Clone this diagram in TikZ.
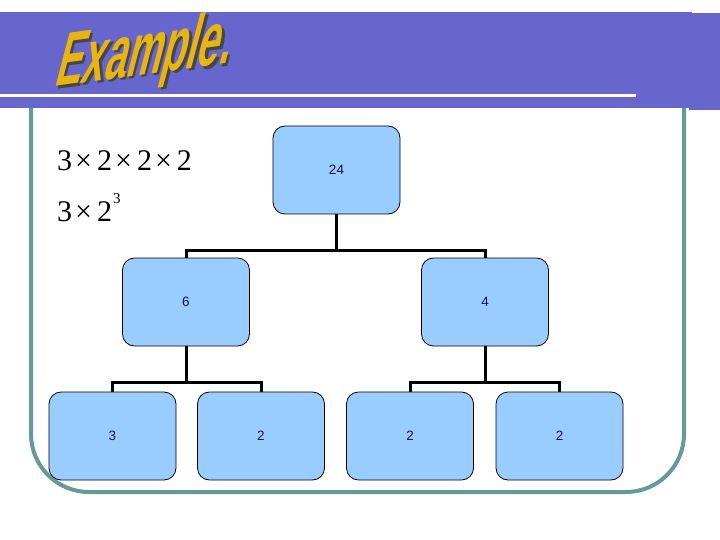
\documentclass[tikz,border=0pt]{standalone}
\usepackage{fontspec}
\setmainfont{Liberation Sans}
\newfontfamily\serifT{Liberation Serif}
\definecolor{banner}{RGB}{102,102,204}
\definecolor{frame}{RGB}{102,153,153}
\definecolor{boxfill}{RGB}{153,204,255}
\definecolor{wgold}{RGB}{232,180,20}
\definecolor{labtxt}{RGB}{20,20,70}
\begin{document}
\begin{tikzpicture}[x=1pt,y=-1pt,
  box/.style={draw=black,line width=0.8pt,fill=boxfill,rounded corners=12pt,
    minimum width=127pt,minimum height=88pt,inner sep=0pt,
    font=\fontsize{13.5}{15}\selectfont,text=labtxt},
  conn/.style={draw=black,line width=3pt},
  title/.style={font=\bfseries\fontsize{66}{68}\selectfont,inner sep=0pt,
    xscale=0.58,yscale=1.17,xslant=0.6,rotate=4},
  mathtxt/.style={font=\serifT\fontsize{30}{31}\selectfont,inner sep=0pt,anchor=base west}]
\useasboundingbox (0,0) rectangle (720,540);
\fill[white] (0,0) rectangle (720,540);
% banner
\fill[banner] (0,12) rectangle (692,108);
\fill[banner] (689,13) rectangle (720,110);
\fill[white] (0,94) rectangle (636,97.5);
% frame
\draw[frame,line width=4pt,rounded corners=58pt] (31,108) -- (31,492) -- (684,492) -- (684,108);
% title (WordArt-like)
\node[title,text=gray!55!black] (tshadow) at (148.5,57.5) {Example.};
\node[title,text=wgold] (ttitle) at (146,55) {Example.};
% math
\node[mathtxt] (m1) at (57,171) {3\hspace{3pt}×\hspace{5pt}2\hspace{3pt}×\hspace{5pt}2\hspace{3pt}×\hspace{5pt}2};
\node[mathtxt] (m2) at (57,222) {3\hspace{3pt}×\hspace{5pt}2};
\node[font=\serifT\fontsize{15}{16}\selectfont,inner sep=0pt,anchor=base west] (m3) at (113,204) {3};
% boxes
\node[box] (n24) at (336.5,170) {24};
\node[box] (n6) at (186,302) {6};
\node[box] (n4) at (485,302) {4};
\node[box] (n3) at (112.5,436) {3};
\node[box] (n2a) at (261,436) {2};
\node[box] (n2b) at (410,436) {2};
\node[box] (n2c) at (559.5,436) {2};
% connectors
\draw[conn] (n24.south) -- ++(0,36) -| (n6.north);
\draw[conn] (n24.south) -- ++(0,36) -| (n4.north);
\draw[conn] (n6.south) -- ++(0,36) -| (n3.north);
\draw[conn] (n6.south) -- ++(0,36) -| (n2a.north);
\draw[conn] (n4.south) -- ++(0,36) -| (n2b.north);
\draw[conn] (n4.south) -- ++(0,36) -| (n2c.north);
\end{tikzpicture}
\end{document}
